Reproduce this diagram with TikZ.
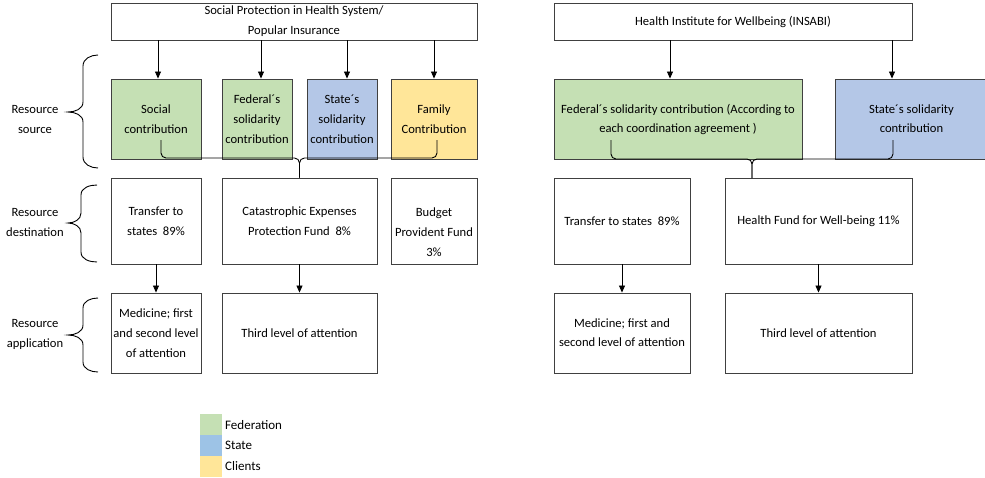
\documentclass[tikz,border=0pt]{standalone}
\usepackage{fontspec}
\setmainfont{Carlito}
\usetikzlibrary{arrows.meta}
\definecolor{fedg}{HTML}{C5E0B4}
\definecolor{stb}{HTML}{B4C7E7}
\definecolor{stl}{HTML}{9DC3E6}
\definecolor{cly}{HTML}{FFE699}
\definecolor{edge}{HTML}{404040}
\begin{document}
\begin{tikzpicture}[x=1pt,y=-1pt,
  box/.style={draw=edge, line width=0.9pt, inner sep=0pt, align=center,
    font=\fontsize{12.6}{20}\selectfont},
  rbox/.style={box, font=\fontsize{12.6}{19}\selectfont},
  lbl/.style={inner sep=0pt, align=center, font=\fontsize{12.6}{20}\selectfont},
  arr/.style={draw=black, line width=0.8pt, -{Triangle[length=7pt,width=6pt]}},
  conn/.style={draw=black, line width=0.9pt, rounded corners=5pt},
  crly/.style={draw=black, line width=0.9pt},
  sw/.style={inner sep=0pt, minimum width=22pt, minimum height=21pt}
]
\useasboundingbox (0,0) rectangle (985,477);

% ---------- left system ----------
\node[box, minimum width=366pt, minimum height=37pt] (topL) at (294,21.5)
  {Social Protection in Health System/\\Popular Insurance};
\node[box, fill=fedg, minimum width=90pt, minimum height=80pt] (soc) at (156,119)
  {Social\\contribution};
\node[box, fill=fedg, minimum width=70pt, minimum height=80pt] (fed) at (257,119)
  {Federal´s\\solidarity\\contribution};
\node[box, fill=stb, minimum width=70pt, minimum height=80pt] (sta) at (342,119)
  {State´s\\solidarity\\contribution};
\node[box, fill=cly, minimum width=86pt, minimum height=80pt] (fam) at (434,119)
  {Family\\Contribution};

\node[box, minimum width=90pt, minimum height=86pt] (trL) at (156,221)
  {Transfer to\\states~ 89\%};
\node[box, minimum width=155pt, minimum height=86pt] (cat) at (299.5,221)
  {Catastrophic Expenses\\Protection Fund~ 8\%};
\node[box, minimum width=86pt, minimum height=86pt] (bud) at (434,221) {};
\node[lbl] (budt) at (434,232) {Budget\\Provident Fund\\3\%};

\node[box, minimum width=90pt, minimum height=80pt] (medL) at (156,333)
  {Medicine; first\\and second level\\of attention};
\node[box, minimum width=155pt, minimum height=80pt] (thL) at (299.5,333)
  {Third level of attention};

\draw[arr] ([xshift=2pt]soc.north |- topL.south) -- ([xshift=2pt]soc.north);
\draw[arr] ([xshift=4pt]fed.north |- topL.south) -- ([xshift=4pt]fed.north);
\draw[arr] ([xshift=5pt]sta.north |- topL.south) -- ([xshift=5pt]sta.north);
\draw[arr] (fam.north |- topL.south) -- (fam.north);

\coordinate (bl1) at (161,140);
\coordinate (bl2) at (437,140);
\coordinate (lbar) at (299.5,158);
\draw[conn] (bl1) |- (lbar) -- (cat.north);
\draw[conn] (bl2) |- (lbar) -- (cat.north);

\draw[arr] (trL.south) -- (medL.north);
\draw[arr] (cat.south) -- (thL.north);

% ---------- right system ----------
\node[box, minimum width=358pt, minimum height=37pt] (topR) at (733,21.5)
  {Health Institute for Wellbeing (INSABI)};
\node[rbox, fill=fedg, minimum width=248pt, minimum height=80pt] (fedR) at (678,119)
  {Federal´s solidarity contribution (According to\\each coordination agreement )};
\node[rbox, fill=stb, minimum width=153pt, minimum height=80pt] (staR) at (911.5,119)
  {State´s solidarity\\contribution};

\node[rbox, minimum width=136pt, minimum height=86pt] (trR) at (622,221)
  {Transfer to states~ 89\%};
\node[rbox, minimum width=187pt, minimum height=86pt] (hf) at (818.5,221)
  {Health Fund for Well-being 11\%};

\node[rbox, minimum width=136pt, minimum height=80pt] (medR) at (622,333)
  {Medicine; first and\\second level of attention};
\node[rbox, minimum width=187pt, minimum height=80pt] (thR) at (818.5,333)
  {Third level of attention};

\draw[arr] ([xshift=-8pt]fedR.north |- topR.south) -- ([xshift=-8pt]fedR.north);
\draw[arr] ([xshift=-19.5pt]staR.north |- topR.south) -- ([xshift=-19.5pt]staR.north);

\coordinate (br1) at (611,140);
\coordinate (br2) at (893,140);
\coordinate (rbar) at (752,159);
\coordinate (rtip) at (752,178);
\draw[conn] (br1) |- (rbar) -- (rtip);
\draw[conn] (br2) |- (rbar) -- (rtip);

\draw[arr] (trR.south) -- (medR.north);
\draw[arr] (hf.south) -- (thR.north);

% ---------- row labels and braces ----------
\node[lbl] (l1) at (35,120) {Resource\\source};
\node[lbl] (l2) at (35,222) {Resource\\destination};
\node[lbl] (l3) at (35,334) {Resource\\application};

\draw[crly] (98,55) to[out=180,in=90] (83,66) -- (83,102) to[out=-90,in=0] (68,112)
  to[out=0,in=90] (83,122) -- (83,157) to[out=-90,in=180] (98,168);
\draw[crly] (97,185) to[out=180,in=90] (81,195) -- (81,213) to[out=-90,in=0] (68,223)
  to[out=0,in=90] (81,233) -- (81,252) to[out=-90,in=180] (97,262);
\draw[crly] (98,298) to[out=180,in=90] (83,308) -- (83,325) to[out=-90,in=0] (68,335)
  to[out=0,in=90] (83,345) -- (83,362) to[out=-90,in=180] (98,372);

% ---------- legend ----------
\node[sw, fill=fedg] (k1) at (211,424) {};
\node[sw, fill=stl] (k2) at (211,445) {};
\node[sw, fill=cly] (k3) at (211,466) {};
\node[lbl, anchor=west, font=\fontsize{13}{16}\selectfont] (t1) at (225,425) {Federation};
\node[lbl, anchor=west, font=\fontsize{13}{16}\selectfont] (t2) at (225,445) {State};
\node[lbl, anchor=west, font=\fontsize{13}{16}\selectfont] (t3) at (225,466) {Clients};
\end{tikzpicture}
\end{document}
